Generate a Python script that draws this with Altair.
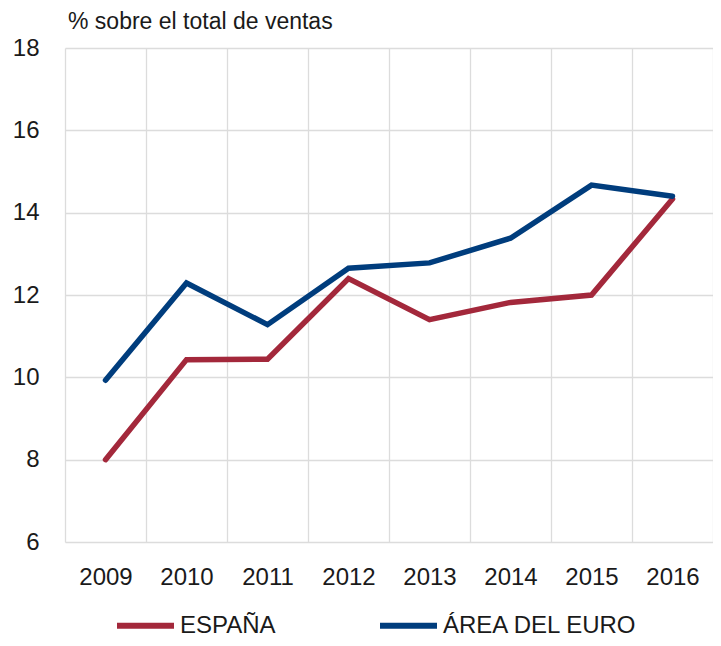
import altair as alt
import pandas as pd

years = ["2009", "2010", "2011", "2012", "2013", "2014", "2015", "2016"]
espana = [8.0, 10.43, 10.44, 12.4, 11.4, 11.82, 12.0, 14.33]
euro = [9.93, 12.29, 11.28, 12.65, 12.78, 13.38, 14.67, 14.4]
series_names = ["ESPAÑA", "ÁREA DEL EURO"]
series_colors = ["#A3283B", "#003D7D"]
y_ticks = [6, 8, 10, 12, 14, 16, 18]

rows = []
for name, vals in zip(series_names, [espana, euro]):
    for yr, v in zip(years, vals):
        rows.append({"year": yr, "value": v, "serie": name})
df = pd.DataFrame(rows)

FONT = "Liberation Sans"
TXT = "#1a1a1a"

chart = alt.Chart(df).mark_line(strokeWidth=5.5, strokeCap="round", strokeJoin="miter").encode(
    x=alt.X("year:O", sort=years,
            scale=alt.Scale(type="band", paddingInner=0, paddingOuter=0),
            axis=alt.Axis(title=None, tickBand="extent", grid=True, ticks=False, domain=False,
                          labelAngle=0, labelFontSize=24, labelFont=FONT, labelColor=TXT,
                          labelPadding=23, gridColor="#dcdcdc", gridWidth=1.3)),
    y=alt.Y("value:Q", scale=alt.Scale(domain=[6, 18], nice=False, zero=False),
            axis=alt.Axis(title=None, values=y_ticks, grid=True, ticks=False, domain=False,
                          labelFontSize=24, labelFont=FONT, labelColor=TXT, labelPadding=26,
                          gridColor="#dcdcdc", gridWidth=1.3)),
    color=alt.Color("serie:N", sort=series_names,
                    scale=alt.Scale(domain=series_names, range=series_colors),
                    legend=alt.Legend(title=None, orient="none", legendX=49, legendY=546,
                                      direction="horizontal", symbolType="stroke",
                                      symbolSize=3249, symbolStrokeWidth=6,
                                      labelFontSize=24, labelFont=FONT, labelColor=TXT,
                                      labelOffset=3, columnPadding=92, labelLimit=400)),
).properties(
    width=648,
    height=494,
    title=alt.TitleParams("% sobre el total de ventas", anchor="start", frame="group",
                          fontSize=23, font=FONT,
                          fontWeight="normal", color=TXT, dx=3, offset=2),
    autosize=alt.AutoSizeParams(type="none"),
    padding={"left": 57, "top": 40, "right": 0, "bottom": 96},
).configure_view(stroke=None)

chart.save("out.html", embed_options={"renderer": "svg", "actions": False})
